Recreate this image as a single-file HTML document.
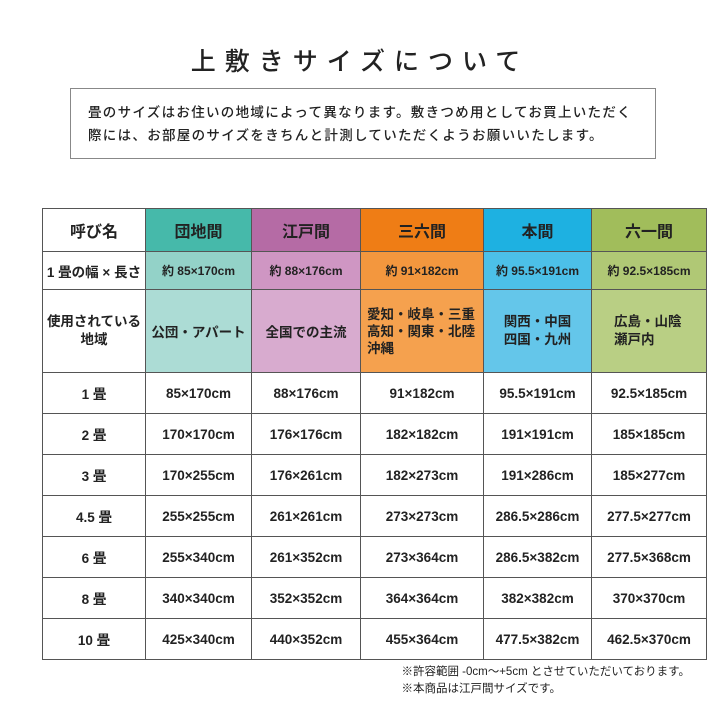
<!DOCTYPE html>
<html><head><meta charset="utf-8"><style>
body{margin:0;width:720px;height:720px;background:#fff;position:relative;font-family:"Liberation Sans","Noto Sans CJK JP",sans-serif;color:#222;overflow:hidden}
.title{position:absolute;top:42px;left:0;width:720px;text-align:center;font-size:25px;letter-spacing:9px;font-weight:500}
.box{position:absolute;left:70px;top:88px;width:586px;height:71px;border:1px solid #888;box-sizing:border-box;font-size:13.5px;line-height:23px;padding:12px 0 0 17px;letter-spacing:1.3px;font-weight:500}
table{position:absolute;left:42px;top:208px;border-collapse:collapse;table-layout:fixed}
td{border:1px solid #555;text-align:center;font-size:13.5px;font-weight:bold;padding:0;height:40px}
.h td{height:42px;font-size:16px}
.r2 td{height:37px}
.r3 td{height:82px}
.notes{position:absolute;right:30px;top:664px;font-size:11.5px;line-height:17px;text-align:left}
</style></head><body>
<div class="title">上敷きサイズについて</div>
<div class="box">畳のサイズはお住いの地域によって異なります。敷きつめ用としてお買上いただく<br>際には、お部屋のサイズをきちんと計測していただくようお願いいたします。</div>
<table>
<colgroup><col style="width:103px"><col style="width:106px"><col style="width:109px"><col style="width:123px"><col style="width:108px"><col style="width:115px"></colgroup>
<tr class="h"><td>呼び名</td><td style="background:#46b9aa">団地間</td><td style="background:#b56ba5">江戸間</td><td style="background:#ef7d15">三六間</td><td style="background:#1eb1e1">本間</td><td style="background:#a1bd5b">六一間</td></tr>
<tr class="r2"><td>1 畳の幅 × 長さ</td><td style="background:#93d2c8;font-size:12px">約 85×170cm</td><td style="background:#cf96c3;font-size:12px">約 88×176cm</td><td style="background:#f3973e;font-size:12px">約 91×182cm</td><td style="background:#4cc0e8;font-size:12px">約 95.5×191cm</td><td style="background:#b0c875;font-size:12px">約 92.5×185cm</td></tr>
<tr class="r3"><td style="line-height:18px">使用されている<br>地域</td><td style="background:#acdcd5">公団・アパート</td><td style="background:#d8abcf">全国での主流</td><td style="background:#f5a14e;text-align:left;padding-left:6px;line-height:17px">愛知・岐阜・三重<br>高知・関東・北陸<br>沖縄</td><td style="background:#64c6ea;line-height:18px">関西・中国<br>四国・九州</td><td style="background:#b9cf84;line-height:18px;text-align:left;padding-left:22px">広島・山陰<br>瀬戸内</td></tr>
<tr><td>1 畳</td><td>85×170cm</td><td>88×176cm</td><td>91×182cm</td><td>95.5×191cm</td><td>92.5×185cm</td></tr>
<tr><td>2 畳</td><td>170×170cm</td><td>176×176cm</td><td>182×182cm</td><td>191×191cm</td><td>185×185cm</td></tr>
<tr><td>3 畳</td><td>170×255cm</td><td>176×261cm</td><td>182×273cm</td><td>191×286cm</td><td>185×277cm</td></tr>
<tr><td>4.5 畳</td><td>255×255cm</td><td>261×261cm</td><td>273×273cm</td><td>286.5×286cm</td><td>277.5×277cm</td></tr>
<tr><td>6 畳</td><td>255×340cm</td><td>261×352cm</td><td>273×364cm</td><td>286.5×382cm</td><td>277.5×368cm</td></tr>
<tr><td>8 畳</td><td>340×340cm</td><td>352×352cm</td><td>364×364cm</td><td>382×382cm</td><td>370×370cm</td></tr>
<tr><td>10 畳</td><td>425×340cm</td><td>440×352cm</td><td>455×364cm</td><td>477.5×382cm</td><td>462.5×370cm</td></tr>
</table>
<div class="notes">※許容範囲 -0cm〜+5cm とさせていただいております。<br>※本商品は江戸間サイズです。</div>
</body></html>
